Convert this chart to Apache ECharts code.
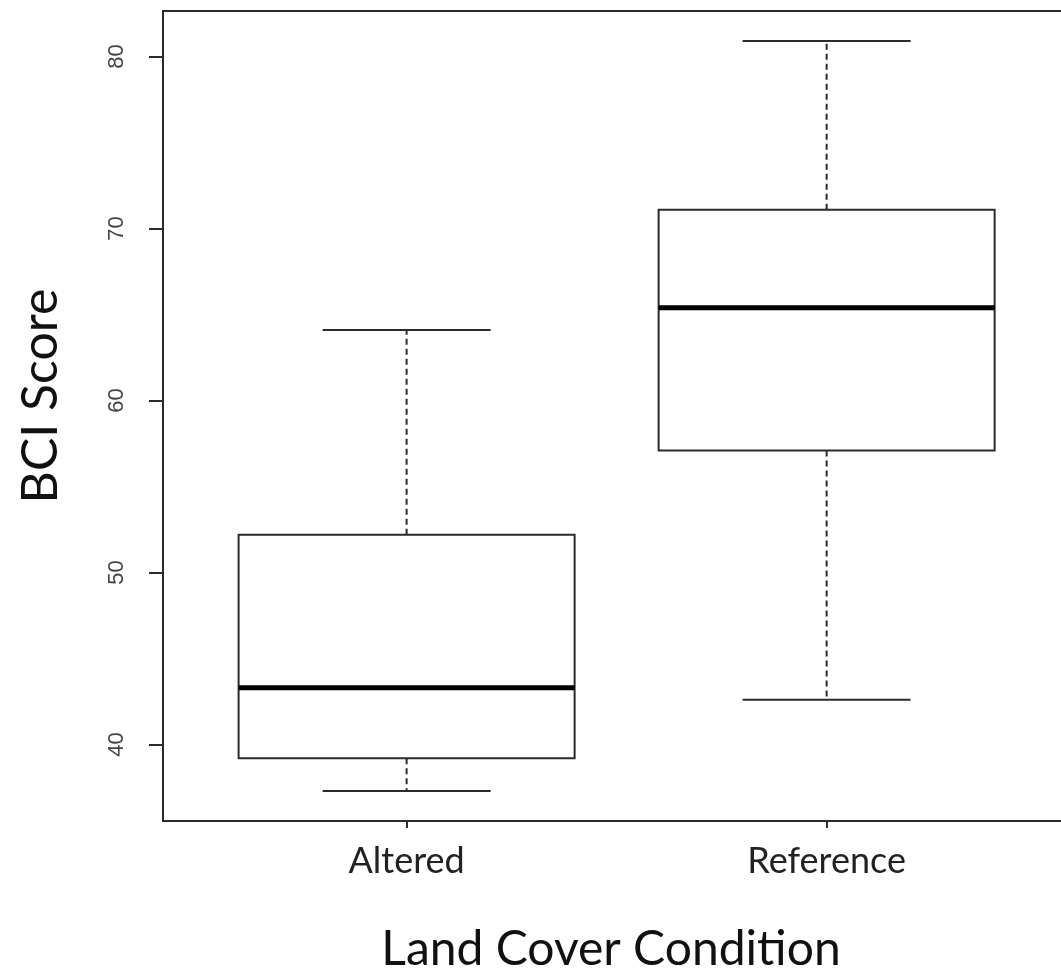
<!DOCTYPE html>
<html>
<head>
<meta charset="utf-8">
<script src="https://cdn.jsdelivr.net/npm/echarts@6/dist/echarts.min.js"></script>
<style>
  html, body { margin: 0; padding: 0; background: #fff; }
  #chart { width: 1061px; height: 979px; }
</style>
</head>
<body>
<div id="chart"></div>
<script>
// ---- data ----
const categories = ['Altered', 'Reference'];
const whiskerLow = [37.3, 42.6];
const q1Values = [39.2, 57.1];
const medianValues = [43.3, 65.4];
const q3Values = [52.2, 71.1];
const whiskerHigh = [64.1, 80.9];
const yTicks = [40, 50, 60, 70, 80];
const xTitle = 'Land Cover Condition';
const yTitle = 'BCI Score';

// ---- build series data: [position, low, q1, median, q3, high] ----
const boxData = categories.map((c, i) => [i + 1, whiskerLow[i], q1Values[i], medianValues[i], q3Values[i], whiskerHigh[i]]);

const BOX_WEX = 0.8;     // box width in category units
const STAPLE_WEX = 0.4;  // whisker cap width in category units
const LINE = '#2b2b2b';
// x range: R-style 0.42 start; the frame runs past the right edge of the picture
const X_MIN = 0.42, X_MAX = 2.558;

const chart = echarts.init(document.getElementById('chart'), null, { renderer: 'canvas' });

const axisLineStyle = { show: true, onZero: false, lineStyle: { color: LINE, width: 2 } };

chart.setOption({
  backgroundColor: '#ffffff',
  animation: false,
  grid: { left: 163, top: 11, right: 0, bottom: 158, outerBoundsMode: 'none' },
  xAxis: [{
    type: 'value',
    position: 'bottom',
    min: X_MIN, max: X_MAX,
    axisLine: axisLineStyle,
    splitLine: { show: false },
    axisTick: { show: true, customValues: [1, 2], length: 7, lineStyle: { color: LINE, width: 2 } },
    axisLabel: {
      customValues: [1, 2],
      formatter: v => categories[Math.round(v) - 1] || '',
      fontFamily: 'Lato', fontSize: 36, color: '#222', margin: 22
    }
  }, {
    type: 'value',
    position: 'top',
    min: X_MIN, max: X_MAX,
    axisLine: axisLineStyle,
    splitLine: { show: false },
    axisTick: { show: false },
    axisLabel: { show: false }
  }],
  yAxis: {
    type: 'value',
    min: 35.55, max: 82.65,
    axisLine: axisLineStyle,
    splitLine: { show: false },
    axisTick: { show: true, customValues: yTicks, length: 14, lineStyle: { color: LINE, width: 2 } },
    axisLabel: {
      customValues: yTicks,
      rotate: 90,
      fontFamily: 'Liberation Sans', fontSize: 22, color: '#444', margin: 35
    }
  },
  graphic: [
    {
      type: 'text', x: 41, y: 396, rotation: Math.PI / 2,
      style: { text: yTitle, font: '50px Lato', fill: '#111', align: 'center', verticalAlign: 'middle' }
    },
    {
      type: 'text', x: 611, y: 950,
      style: { text: xTitle, font: '48px Lato', fill: '#111', align: 'center', verticalAlign: 'middle' }
    }
  ],
  series: [{
    type: 'custom',
    xAxisIndex: 0,
    data: boxData,
    clip: false,
    encode: { x: 0, y: [1, 2, 3, 4, 5] },
    renderItem: function (params, api) {
      const x = api.value(0);
      const lo = api.coord([x, api.value(1)]);
      const q1 = api.coord([x, api.value(2)]);
      const md = api.coord([x, api.value(3)]);
      const q3 = api.coord([x, api.value(4)]);
      const hi = api.coord([x, api.value(5)]);
      const half = api.size([BOX_WEX, 0])[0] / 2;
      const sHalf = api.size([STAPLE_WEX, 0])[0] / 2;
      const cx = md[0];
      const solid = { stroke: LINE, lineWidth: 2, fill: null };
      const dashed = { stroke: LINE, lineWidth: 2, lineDash: [6, 4], fill: null };
      return {
        type: 'group',
        children: [
          { type: 'line', shape: { x1: cx, y1: q3[1], x2: cx, y2: hi[1] }, style: dashed },
          { type: 'line', shape: { x1: cx, y1: q1[1], x2: cx, y2: lo[1] }, style: dashed },
          { type: 'line', shape: { x1: cx - sHalf, y1: hi[1], x2: cx + sHalf, y2: hi[1] }, style: solid },
          { type: 'line', shape: { x1: cx - sHalf, y1: lo[1], x2: cx + sHalf, y2: lo[1] }, style: solid },
          { type: 'rect', shape: { x: cx - half, y: q3[1], width: half * 2, height: q1[1] - q3[1] }, style: { stroke: LINE, lineWidth: 2, fill: '#fff' } },
          { type: 'line', shape: { x1: cx - half, y1: md[1], x2: cx + half, y2: md[1] }, style: { stroke: '#000', lineWidth: 5 } }
        ]
      };
    }
  }]
});
</script>
</body>
</html>
